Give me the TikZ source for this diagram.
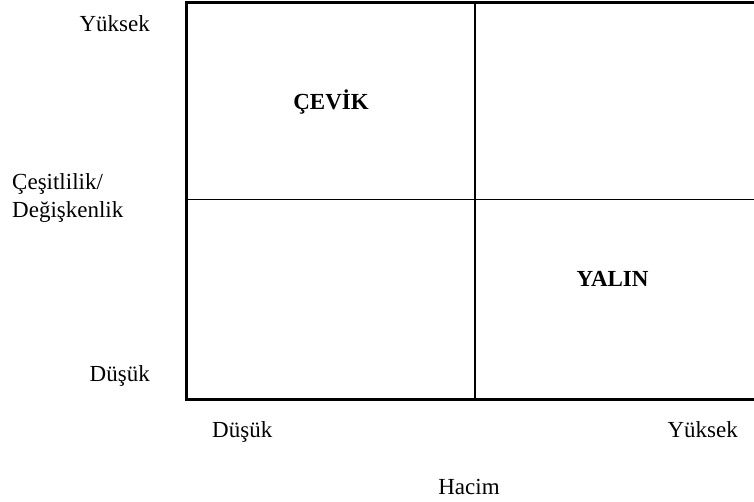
\documentclass[tikz,border=0pt]{standalone}
\usepackage{fontspec}
\setmainfont{Liberation Serif}
\begin{document}
\begin{tikzpicture}[x=1pt,y=-1pt,
  lbl/.style={font=\fontsize{23}{27}\selectfont, inner sep=0pt, anchor=base},
  axis/.style={line width=3pt},
  divider/.style={line width=1.5pt}]
\useasboundingbox (0,0) rectangle (754,502);
% frame corners
\coordinate (tl) at (186.5,2.5);
\coordinate (tr) at (754,2.5);
\coordinate (bl) at (186.5,399);
\coordinate (br) at (754,399);
\coordinate (mt) at (475,2.5);
\coordinate (mb) at (475,399);
\coordinate (ml) at (186.5,199.5);
\coordinate (mr) at (754,199.5);
% outer axes
\draw[axis] (tr) -- (tl) -- (bl) -- (br);
% quadrant dividers
\draw[divider] (mt) -- (mb);
\draw[divider] (ml) -- (mr);
% quadrant labels
\node[lbl] (cevik) at (331,110) {\textbf{ÇEVİK}};
\node[lbl] (yalin) at (612.5,287) {\textbf{YALIN}};
% vertical axis labels
\node[lbl, anchor=base east] (yhigh) at (150,32) {Yüksek};
\node[lbl, anchor=base west] (yname1) at (12,190) {Çeşitlilik/};
\node[lbl, anchor=base west] (yname2) at (12,218) {Değişkenlik};
\node[lbl, anchor=base east] (ylow) at (150,381) {Düşük};
% horizontal axis labels
\node[lbl, anchor=base west] (xlow) at (212,437) {Düşük};
\node[lbl, anchor=base east] (xhigh) at (738,437) {Yüksek};
\node[lbl] (xname) at (469,494) {Hacim};
\end{tikzpicture}
\end{document}
